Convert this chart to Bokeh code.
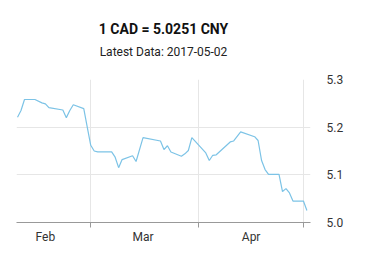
from datetime import datetime
import pandas as pd
from bokeh.plotting import figure
from bokeh.models import (ColumnDataSource, FixedTicker, DatetimeTickFormatter,
                          Range1d, Title, NumeralTickFormatter)
from bokeh.embed import file_html
from bokeh.resources import INLINE

dates = ["2017-02-08", "2017-02-09", "2017-02-10", "2017-02-13", "2017-02-15",
         "2017-02-16", "2017-02-17", "2017-02-21", "2017-02-22", "2017-02-23",
         "2017-02-24", "2017-02-27", "2017-02-28", "2017-03-01", "2017-03-02",
         "2017-03-03", "2017-03-07", "2017-03-08", "2017-03-09", "2017-03-10",
         "2017-03-13", "2017-03-14", "2017-03-16", "2017-03-21", "2017-03-22",
         "2017-03-23", "2017-03-24", "2017-03-27", "2017-03-28", "2017-03-29",
         "2017-03-30", "2017-04-03", "2017-04-04", "2017-04-05", "2017-04-06",
         "2017-04-10", "2017-04-11", "2017-04-13", "2017-04-17", "2017-04-18",
         "2017-04-19", "2017-04-20", "2017-04-21", "2017-04-24", "2017-04-25",
         "2017-04-26", "2017-04-27", "2017-04-28", "2017-05-01", "2017-05-02"]
rates = [5.221, 5.235, 5.258, 5.258, 5.251,
         5.249, 5.241, 5.236, 5.220, 5.235,
         5.247, 5.239, 5.200, 5.162, 5.150,
         5.148, 5.148, 5.137, 5.115, 5.132,
         5.140, 5.128, 5.178, 5.171, 5.153,
         5.161, 5.148, 5.139, 5.144, 5.151,
         5.178, 5.146, 5.130, 5.141, 5.142,
         5.169, 5.171, 5.190, 5.180, 5.172,
         5.130, 5.111, 5.101, 5.101, 5.065,
         5.071, 5.062, 5.045, 5.045, 5.0251]

month_starts = ["2017-02-01", "2017-03-01", "2017-04-01", "2017-05-01"]
month_label_pos = ["2017-02-16", "2017-03-16", "2017-04-16"]
y_ticks = [5.0, 5.1, 5.2, 5.3]

title_text = "1 CAD = 5.0251 CNY"
subtitle_text = "Latest Data: 2017-05-02"

def ms(s):
    return pd.Timestamp(s).value / 1e6

src = ColumnDataSource(dict(x=pd.to_datetime(dates), y=rates))

p = figure(width=378, height=254, output_backend="svg", toolbar_location=None,
           x_axis_type="datetime", y_axis_location="right",
           x_range=Range1d(datetime(2017, 2, 7, 17), datetime(2017, 5, 3, 0, 45)),
           y_range=Range1d(5.0, 5.3),
           min_border_left=16, min_border_right=68,
           min_border_top=79, min_border_bottom=32)
p.title = None
p.outline_line_color = None
p.background_fill_color = "white"
p.border_fill_color = "white"

p.line("x", "y", source=src, line_color="#7cc3e6", line_width=1.2)

# x axis
xa = p.xaxis[0]
xa.ticker = FixedTicker(ticks=[ms(d) for d in month_label_pos],
                        minor_ticks=[ms(d) for d in month_starts])
xa.formatter = DatetimeTickFormatter(days="%b", months="%b", years="%b",
                                     hours="%b", minutes="%b", seconds="%b",
                                     milliseconds="%b", microseconds="%b",
                                     minsec="%b", hourmin="%b")
xa.major_tick_out = 0
xa.major_tick_in = 0
xa.minor_tick_out = 5
xa.minor_tick_in = 0
xa.minor_tick_line_color = "#999999"
xa.axis_line_color = "#999999"
xa.major_label_standoff = 2
xa.major_label_text_font = "Roboto"
xa.major_label_text_font_size = "12px"
xa.major_label_text_color = "#333333"

p.xgrid.ticker = FixedTicker(ticks=[ms(d) for d in month_starts])
p.xgrid.grid_line_color = "#e6e6e6"

# y axis
ya = p.yaxis[0]
ya.ticker = FixedTicker(ticks=y_ticks)
ya.formatter = NumeralTickFormatter(format="0.0")
ya.axis_line_color = None
ya.major_tick_line_color = None
ya.minor_tick_line_color = None
ya.major_label_standoff = 10
ya.major_label_text_font = "Roboto"
ya.major_label_text_font_size = "12px"
ya.major_label_text_color = "#333333"
p.ygrid.ticker = FixedTicker(ticks=y_ticks)
p.ygrid.grid_line_color = "#e6e6e6"

# spacer between subtitle and plot area
p.add_layout(Title(text=" ", text_font="Roboto", text_font_size="12px",
                   standoff=3), "above")
p.add_layout(Title(text=subtitle_text, align="center", text_font="Roboto",
                   text_font_size="12px", text_font_style="normal",
                   text_color="#222222", standoff=4), "above")
p.add_layout(Title(text=title_text, align="center", text_font="Roboto",
                   text_font_size="14px", text_font_style="bold",
                   text_color="#111111", standoff=7), "above")

open("out.html", "w").write(file_html(p, INLINE))
